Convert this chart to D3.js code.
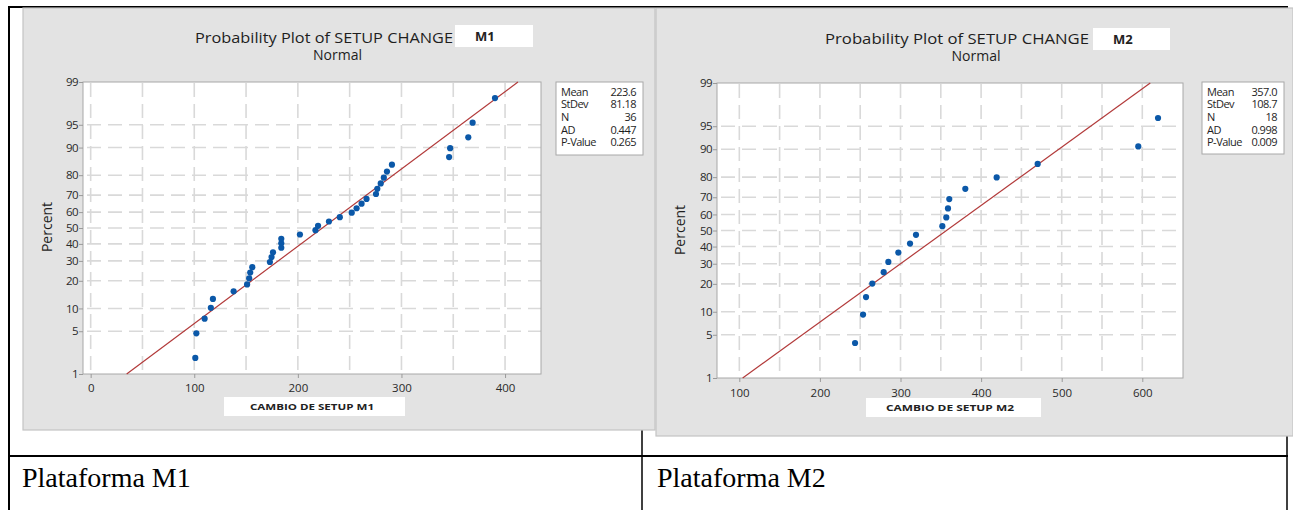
<!DOCTYPE html>
<html>
<head>
<meta charset="utf-8">
<script src="https://cdn.jsdelivr.net/npm/d3@7"></script>
<style>
  html, body { margin: 0; padding: 0; background: #ffffff; }
  svg { display: block; font-family: "Open Sans", "Liberation Sans", sans-serif; }
  .caption { font-family: "Liberation Serif", "Times New Roman", serif; }
</style>
</head>
<body>
<svg id="chart" width="1293" height="510"></svg>
<script>
// ---------------- DATA ----------------
const percentTicks = [1, 5, 10, 20, 30, 40, 50, 60, 70, 80, 90, 95, 99];
const statLabels = ["Mean", "StDev", "N", "AD", "P-Value"];

const m1Values = [101, 102, 110, 116, 118, 138, 151, 153, 154, 156, 173, 174.6, 176, 184, 184, 184,
  202, 217, 219.5, 230, 240.5, 252, 256.7, 261.5, 266.3, 275.4, 276.7, 280, 283, 286, 290.8,
  346, 347, 364.5, 368.7, 390.3];
const m1Percent = [1.92, 4.67, 7.42, 10.16, 12.91, 15.66, 18.41, 21.15, 23.90, 26.65, 29.40, 32.14,
  34.89, 37.64, 40.38, 43.13, 45.88, 48.63, 51.37, 54.12, 56.87, 59.62, 62.36, 65.11, 67.86, 70.60,
  73.35, 76.10, 78.85, 81.59, 84.34, 87.09, 89.84, 92.58, 95.33, 98.08];
const m1Stats = ["223.6", "81.18", "36", "0.447", "0.265"];
const m1Mean = 223.6, m1StDev = 81.18;
const m1XTicks = [0, 100, 200, 300, 400];
const m1Grid = [0, 50, 100, 150, 200, 250, 300, 350, 400];

const m2Values = [243.6, 253.5, 257.2, 265, 279.1, 284.9, 297.3, 311.8, 319.2, 351.9, 356.8, 358.9,
  360.5, 380.4, 419.3, 470.2, 595, 619.5];
const m2Percent = [3.80, 9.24, 14.67, 20.11, 25.54, 30.98, 36.41, 41.85, 47.28, 52.72, 58.15, 63.59,
  69.02, 74.46, 79.89, 85.33, 90.76, 96.20];
const m2Stats = ["357.0", "108.7", "18", "0.998", "0.009"];
const m2Mean = 357.0, m2StDev = 108.7;
const m2XTicks = [100, 200, 300, 400, 500, 600];
const m2Grid = [100, 150, 200, 250, 300, 350, 400, 450, 500, 550, 600];

const titleText = "Probability Plot of SETUP CHANGE";
const subtitleText = "Normal";
const yTitle = "Percent";
const captions = ["Plataforma M1", "Plataforma M2"];

// inverse standard normal CDF (probability scale transform)
function probit(p) {
  const a = [-3.969683028665376e+01, 2.209460984245205e+02, -2.759285104469687e+02, 1.383577518672690e+02, -3.066479806614716e+01, 2.506628277459239e+00];
  const b = [-5.447609879822406e+01, 1.615858368580409e+02, -1.556989798598866e+02, 6.680131188771972e+01, -1.328068155288572e+01];
  const c = [-7.784894002430293e-03, -3.223964580411365e-01, -2.400758277161838e+00, -2.549732539343734e+00, 4.374664141464968e+00, 2.938163982698783e+00];
  const d = [7.784695709041462e-03, 3.224671290700398e-01, 2.445134137142996e+00, 3.754408661907416e+00];
  const pl = 0.02425, ph = 1 - pl;
  if (p < pl) { const q = Math.sqrt(-2 * Math.log(p)); return (((((c[0]*q+c[1])*q+c[2])*q+c[3])*q+c[4])*q+c[5]) / ((((d[0]*q+d[1])*q+d[2])*q+d[3])*q+1); }
  if (p <= ph) { const q = p - 0.5, r = q*q; return (((((a[0]*r+a[1])*r+a[2])*r+a[3])*r+a[4])*r+a[5])*q / (((((b[0]*r+b[1])*r+b[2])*r+b[3])*r+b[4])*r+1); }
  const q = Math.sqrt(-2 * Math.log(1 - p)); return -(((((c[0]*q+c[1])*q+c[2])*q+c[3])*q+c[4])*q+c[5]) / ((((d[0]*q+d[1])*q+d[2])*q+d[3])*q+1);
}

const svg = d3.select("#chart");

// ---------------- TABLE FRAME ----------------
const tbl = svg.append("g");
tbl.append("line").attr("x1", 8).attr("x2", 1288).attr("y1", 7).attr("y2", 7).attr("stroke", "#000").attr("stroke-width", 2);
tbl.append("line").attr("x1", 9).attr("x2", 9).attr("y1", 6).attr("y2", 510).attr("stroke", "#000").attr("stroke-width", 2);
tbl.append("line").attr("x1", 1287).attr("x2", 1287).attr("y1", 6).attr("y2", 510).attr("stroke", "#000").attr("stroke-width", 1.5);
tbl.append("line").attr("x1", 8).attr("x2", 1288).attr("y1", 456).attr("y2", 456).attr("stroke", "#000").attr("stroke-width", 2);
tbl.append("line").attr("x1", 642).attr("x2", 642).attr("y1", 420).attr("y2", 510).attr("stroke", "#000").attr("stroke-width", 1.5);

svg.append("text").attr("class", "caption").attr("x", 22).attr("y", 487)
  .attr("font-size", 28).attr("fill", "#000").text(captions[0]);
svg.append("text").attr("class", "caption").attr("x", 657).attr("y", 487)
  .attr("font-size", 28).attr("fill", "#000").text(captions[1]);

// ---------------- PANELS ----------------
function drawPanel(cfg) {
  const g = svg.append("g");
  // gray background
  g.append("rect").attr("x", cfg.panel[0]).attr("y", cfg.panel[1])
    .attr("width", cfg.panel[2] - cfg.panel[0]).attr("height", cfg.panel[3] - cfg.panel[1])
    .attr("fill", "#e3e3e3").attr("stroke", "#c4c4c4").attr("stroke-width", 1.2);

  const x = d3.scaleLinear().domain(cfg.xDomain).range([cfg.plot[0], cfg.plot[2]]);
  const y = d3.scaleLinear().domain([probit(0.01), probit(0.99)]).range([cfg.plot[3], cfg.plot[1]]);
  const yP = p => y(probit(p / 100));

  // plot area
  g.append("rect").attr("x", cfg.plot[0]).attr("y", cfg.plot[1])
    .attr("width", cfg.plot[2] - cfg.plot[0]).attr("height", cfg.plot[3] - cfg.plot[1])
    .attr("fill", "#ffffff");

  // grid
  const grid = g.append("g").attr("stroke", "#d9d9d9").attr("stroke-width", 1.6).attr("stroke-dasharray", "14,7");
  grid.selectAll("line.v").data(cfg.grid).join("line").attr("class", "v")
    .attr("x1", d => x(d)).attr("x2", d => x(d)).attr("y1", cfg.plot[1] + 1).attr("y2", cfg.plot[3]);
  grid.selectAll("line.h").data(percentTicks.slice(1, -1)).join("line").attr("class", "h")
    .attr("x1", cfg.plot[0] + 4).attr("x2", cfg.plot[2]).attr("y1", d => yP(d)).attr("y2", d => yP(d));

  // frame
  g.append("rect").attr("x", cfg.plot[0]).attr("y", cfg.plot[1])
    .attr("width", cfg.plot[2] - cfg.plot[0]).attr("height", cfg.plot[3] - cfg.plot[1])
    .attr("fill", "none").attr("stroke", "#a8a8a8").attr("stroke-width", 1);

  // axes
  const yAxis = d3.axisLeft(y).tickValues(percentTicks.map(p => probit(p / 100)))
    .tickFormat((d, i) => percentTicks[i]).tickSize(4).tickSizeOuter(0);
  const ya = g.append("g").attr("transform", `translate(${cfg.plot[0]},0)`).call(yAxis);
  const xAxis = d3.axisBottom(x).tickValues(cfg.xTicks).tickSize(4).tickSizeOuter(0);
  const xa = g.append("g").attr("transform", `translate(0,${cfg.plot[3]})`).call(xAxis);
  [ya, xa].forEach(a => {
    a.attr("font-family", null);
    a.select(".domain").remove();
    a.selectAll(".tick line").attr("stroke", "#9a9a9a");
    a.selectAll(".tick text").attr("fill", "#2a2a2a").attr("font-size", 11.5);
  });
  ya.selectAll(".tick text").attr("x", -5).attr("letter-spacing", -0.6);
  xa.selectAll(".tick text").attr("dy", cfg.xTickDy);

  // fitted line
  const lo = cfg.mean + cfg.sd * probit(0.01), hi = cfg.mean + cfg.sd * probit(0.99);
  g.append("line").attr("x1", x(lo)).attr("y1", yP(1)).attr("x2", x(hi)).attr("y2", yP(99))
    .attr("stroke", "#b23a3a").attr("stroke-width", 1.2);

  // points
  g.append("g").selectAll("circle").data(cfg.values.map((v, i) => [v, cfg.percent[i]])).join("circle")
    .attr("cx", d => x(d[0])).attr("cy", d => yP(d[1])).attr("r", 3.1).attr("fill", "#0b58a8");

  // titles
  g.append("text").attr("x", cfg.title[0]).attr("y", cfg.title[1]).attr("font-size", 15).attr("fill", "#1e1e1e")
    .attr("textLength", cfg.title[2]).attr("lengthAdjust", "spacingAndGlyphs").text(titleText);
  g.append("text").attr("x", cfg.sub[0]).attr("y", cfg.sub[1]).attr("font-size", 14).attr("fill", "#1e1e1e")
    .attr("text-anchor", "middle").attr("textLength", 49).attr("lengthAdjust", "spacingAndGlyphs").text(subtitleText);
  g.append("rect").attr("x", cfg.tag[0]).attr("y", cfg.tag[1]).attr("width", cfg.tag[2] - cfg.tag[0])
    .attr("height", cfg.tag[3] - cfg.tag[1]).attr("fill", "#ffffff");
  g.append("text").attr("x", cfg.tag[0] + 20).attr("y", cfg.tag[3] - 6).attr("font-size", 13)
    .attr("font-weight", "bold").attr("fill", "#222").text(cfg.name);

  // y title
  g.append("text").attr("transform", `translate(${cfg.yTitle[0]},${cfg.yTitle[1]}) rotate(-90)`)
    .attr("text-anchor", "middle").attr("font-size", 14).attr("fill", "#1e1e1e").text(yTitle);

  // x title box
  g.append("rect").attr("x", cfg.xt[0]).attr("y", cfg.xt[1]).attr("width", cfg.xt[2] - cfg.xt[0])
    .attr("height", cfg.xt[3] - cfg.xt[1]).attr("fill", "#ffffff");
  g.append("text").attr("x", cfg.xtText[0]).attr("y", cfg.xtText[1]).attr("text-anchor", "middle")
    .attr("font-size", 9).attr("font-weight", "bold").attr("fill", "#222")
    .attr("textLength", cfg.xtText[2]).attr("lengthAdjust", "spacingAndGlyphs").text(cfg.xLabel);

  // legend
  g.append("rect").attr("x", cfg.leg[0]).attr("y", cfg.leg[1]).attr("width", cfg.leg[2] - cfg.leg[0])
    .attr("height", cfg.leg[3] - cfg.leg[1]).attr("fill", "#ffffff").attr("stroke", "#a8a8a8");
  statLabels.forEach((s, i) => {
    const yy = cfg.leg[1] + 13.5 + i * 12.7;
    g.append("text").attr("x", cfg.leg[0] + 5).attr("y", yy).attr("font-size", 11).attr("fill", "#1e1e1e")
      .attr("letter-spacing", -0.5).text(s);
    g.append("text").attr("x", cfg.leg[2] - 7).attr("y", yy).attr("font-size", 11).attr("fill", "#1e1e1e")
      .attr("letter-spacing", -0.5).attr("text-anchor", "end").text(cfg.stats[i]);
  });
}

drawPanel({
  name: "M1", xLabel: "CAMBIO DE SETUP M1",
  panel: [23, 8, 655, 430],
  plot: [83, 82, 541, 374],
  xDomain: [-7.4, 434.7],
  xTicks: m1XTicks, grid: m1Grid, xTickDy: "0.95em",
  values: m1Values, percent: m1Percent, mean: m1Mean, sd: m1StDev, stats: m1Stats,
  title: [195, 43, 258], sub: [337.5, 60], tag: [455, 25, 533, 47],
  yTitle: [52, 227], xt: [224, 397, 405, 416], xtText: [312, 410, 124],
  leg: [556, 82, 643, 155]
});

drawPanel({
  name: "M2", xLabel: "CAMBIO DE SETUP M2",
  panel: [656, 8, 1293, 436],
  plot: [717, 83, 1183, 378],
  xDomain: [72.3, 650.5],
  xTicks: m2XTicks, grid: m2Grid, xTickDy: "1.05em",
  values: m2Values, percent: m2Percent, mean: m2Mean, sd: m2StDev, stats: m2Stats,
  title: [825, 44, 264], sub: [976, 61], tag: [1093, 28, 1170, 50],
  yTitle: [685, 230], xt: [866, 398, 1041, 417], xtText: [950, 411, 128],
  leg: [1202, 82, 1284, 154]
});
</script>
</body>
</html>
